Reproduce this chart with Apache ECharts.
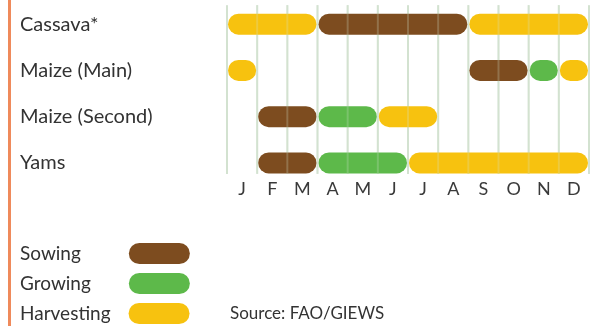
<!DOCTYPE html>
<html>
<head>
<meta charset="utf-8">
<script src="https://cdn.jsdelivr.net/npm/echarts@6/dist/echarts.min.js"></script>
<style>
html,body{margin:0;padding:0;background:#fff;}
#chart{width:597px;height:326px;}
</style>
</head>
<body>
<div id="chart"></div>
<script>
// crop calendar data: [start month, end month, phase]
var crops = ['Cassava*', 'Maize (Main)', 'Maize (Second)', 'Yams'];
var months = ['J', 'F', 'M', 'A', 'M', 'J', 'J', 'A', 'S', 'O', 'N', 'D'];
var phases = ['Sowing', 'Growing', 'Harvesting'];
var phaseColors = ['#7d4c1f', '#5db94a', '#f7c20f'];

var cassava = [[0, 3, 'Harvesting'], [3, 8, 'Sowing'], [8, 12, 'Harvesting']];
var maizeMain = [[0, 1, 'Harvesting'], [8, 10, 'Sowing'], [10, 11, 'Growing'], [11, 12, 'Harvesting']];
var maizeSecond = [[1, 3, 'Sowing'], [3, 5, 'Growing'], [5, 7, 'Harvesting']];
var yams = [[1, 3, 'Sowing'], [3, 6, 'Growing'], [6, 12, 'Harvesting']];
var boundaries = [0, 1, 2, 3, 4, 5, 6, 7, 8, 9, 10, 11, 12];

var calendar = [cassava, maizeMain, maizeSecond, yams];

var myChart = echarts.init(document.getElementById('chart'));

function pill(params, api) {
    var a = api.coord([api.value(0), api.value(2)]);
    var b = api.coord([api.value(1), api.value(2)]);
    var h = 21;
    return {
        type: 'rect',
        shape: {x: a[0] + 1, y: a[1] - h / 2, width: b[0] - a[0] - 2, height: h, r: h / 2},
        style: {fill: api.visual('color')}
    };
}

function gridLine(opacity) {
    return function (params, api) {
        var top = api.coord([api.value(0), 0]);
        var bottom = api.coord([api.value(0), crops.length - 1]);
        return {
            type: 'line',
            shape: {x1: top[0], y1: top[1] - 19, x2: top[0], y2: bottom[1] + 11},
            style: {stroke: '#d3e2d0', lineWidth: 2, opacity: opacity}
        };
    };
}

var series = [];
series.push({
    type: 'custom', name: 'grid', renderItem: gridLine(1), z: 1, silent: true,
    data: boundaries.map(function (m) { return [m]; })
});
phases.forEach(function (p, i) {
    var data = [];
    calendar.forEach(function (rows, ci) {
        rows.forEach(function (r) {
            if (r[2] == p) data.push([r[0], r[1], ci]);
        });
    });
    series.push({
        type: 'custom', name: p, renderItem: pill, z: 2,
        itemStyle: {color: phaseColors[i]},
        encode: {x: [0, 1], y: 2},
        data: data
    });
});
series.push({
    type: 'custom', name: 'grid2', renderItem: gridLine(0.25), z: 3, silent: true,
    data: boundaries.map(function (m) { return [m]; })
});

// one legend per phase; text at x=20, right padding so pills line up at x=129
var ctx = document.createElement('canvas').getContext('2d');
ctx.font = '19px Lato';
var legends = phases.map(function (p, i) {
    var w = ctx.measureText(p).width;
    return {
        data: [p],
        left: 20, top: 243 + i * 30,
        padding: 0,
        align: 'right',
        itemWidth: 61, itemHeight: 21,
        icon: 'path://M10.5,0 L50.5,0 A10.5,10.5 0 0 1 50.5,21 L10.5,21 A10.5,10.5 0 0 1 10.5,0 Z',
        selectedMode: false,
        textStyle: {fontSize: 19, color: '#333', fontFamily: 'Lato', padding: [4, Math.round(104 - w), 0, 0]}
    };
});

var option = {
    animation: false,
    color: phaseColors,
    textStyle: {fontFamily: 'Lato'},
    grid: {left: 227, right: 8, top: 1, height: 185},
    xAxis: [
        {type: 'value', min: 0, max: 12, interval: 1, show: false},
        {
            type: 'category', data: months, position: 'bottom', boundaryGap: true,
            axisLine: {show: false}, axisTick: {show: false}, splitLine: {show: false},
            axisLabel: {fontSize: 18, color: '#3a3a3a', margin: -6, fontFamily: 'Lato'}
        }
    ],
    yAxis: {
        type: 'category', data: crops, inverse: true,
        axisLine: {show: false}, axisTick: {show: false}, splitLine: {show: false},
        axisLabel: {align: 'left', margin: 207, fontSize: 20, color: '#333', fontFamily: 'Lato'}
    },
    legend: legends,
    graphic: [
        {type: 'rect', left: 8, top: 0, shape: {width: 3, height: 326}, style: {fill: '#ef8a5b'}},
        {type: 'text', left: 230, top: 305, style: {text: 'Source: FAO/GIEWS', fontSize: 17, fill: '#333', fontFamily: 'Lato'}}
    ],
    series: series
};
myChart.setOption(option);
</script>
</body>
</html>
